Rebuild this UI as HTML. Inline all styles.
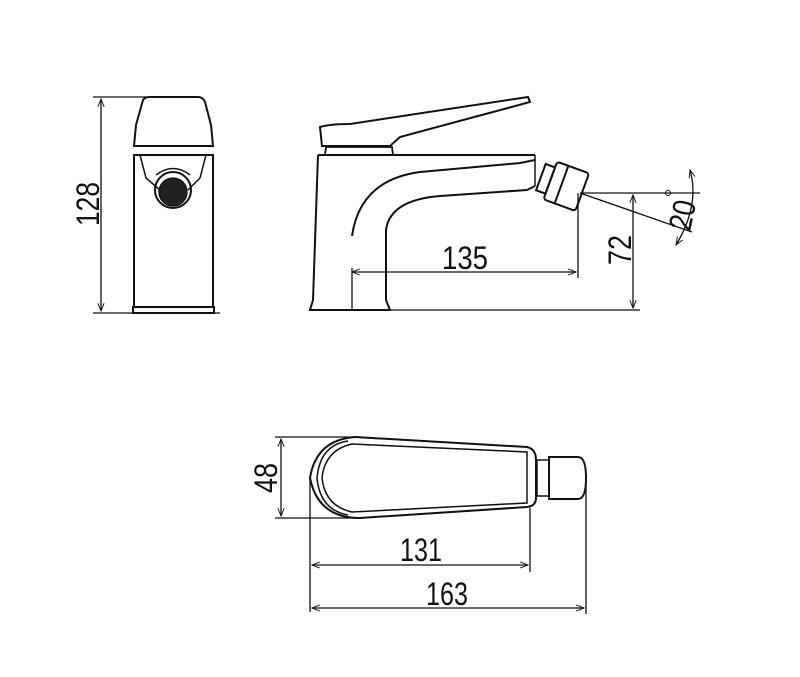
<!DOCTYPE html>
<html><head><meta charset="utf-8"><style>
html,body{margin:0;padding:0;background:#fff;}
svg{display:block;}
text{font-family:"Liberation Sans Narrow","Liberation Sans",sans-serif;font-size:32px;fill:#111;}
</style></head><body>
<svg width="800" height="677" viewBox="0 0 800 677" xmlns="http://www.w3.org/2000/svg">
<defs>
<marker id="a" viewBox="0 0 10 10" refX="10" refY="5" markerWidth="8" markerHeight="6" orient="auto-start-reverse"><path d="M0,1 L10,5 L0,9" fill="none" stroke="#111" stroke-width="1.2"/></marker>
</defs>
<g stroke="#111" stroke-width="1.3" fill="none">
<line x1="93" y1="97" x2="200" y2="97"/>
<line x1="93" y1="313" x2="220" y2="313"/>
<line x1="101" y1="99" x2="101" y2="311" marker-start="url(#a)" marker-end="url(#a)"/>
<path d="M134,146 L136,125 L143,100 Q145,97 150,97 L198,97 Q203,97 205,102 L211,125 L213,146 Z" stroke-width="2"/>
<line x1="134" y1="146" x2="213" y2="146" stroke-width="2"/>
<path d="M134,155 L213,155 L213,307 L134,307 Z" stroke-width="2"/>
<path d="M133,307 L214,307 L214,313 L133,313 Z" stroke-width="2"/>
<path d="M140,155 L146,178 L160,190 M206,155 L200,178 L188,190" stroke-width="1.5"/>
<path d="M156,175 Q173,162 190,175" stroke-width="1.5"/>
<circle cx="173" cy="190" r="18" stroke-width="2"/>
<circle cx="173" cy="192" r="14" fill="#222"/>
<path d="M320,127 Q330,124 350,124 L528,97 L530,102 L400,137 L390,146 L322,146 Z" stroke-width="2"/>
<path d="M326,147 L392,147 L393,155 L325,155 Z" stroke-width="1.8"/>
<path d="M318,155 L535,155 M318,155 L313,300 L310,310 L390,310 L386,300 L386,230 Q390,200 440,196 L527,190 L535,186" stroke-width="2"/>
<path d="M352,236 Q360,180 420,172 L520,163 L535,160" stroke-width="2"/>
<line x1="535" y1="155" x2="535" y2="186" stroke-width="1.5"/>
<g transform="rotate(20 560 183)" stroke-width="2">
<rect x="540" y="170" width="10" height="28"/>
<rect x="550" y="164" width="34" height="40" rx="3"/>
<line x1="562" y1="164" x2="562" y2="204"/>
</g>
<line x1="352" y1="268" x2="352" y2="310"/>
<line x1="352" y1="272" x2="576" y2="272" marker-start="url(#a)" marker-end="url(#a)"/>
<line x1="578" y1="193" x2="578" y2="278"/>
<line x1="390" y1="310" x2="640" y2="310"/>
<line x1="580" y1="193" x2="700" y2="193"/>
<line x1="633" y1="195" x2="633" y2="308" marker-start="url(#a)" marker-end="url(#a)"/>
<line x1="580" y1="193" x2="692" y2="232"/>
<path d="M690,170 Q700,205 676,245" marker-start="url(#a)" marker-end="url(#a)"/>
<line x1="275" y1="437" x2="355" y2="437"/>
<line x1="275" y1="518" x2="360" y2="518"/>
<line x1="281" y1="439" x2="281" y2="516" marker-start="url(#a)" marker-end="url(#a)"/>
<path d="M355,437 L527,447 Q536,449 536,460 L536,498 Q536,506 527,507 L360,518 Q318,518 310,478 Q316,440 355,437 Z" stroke-width="2"/>
<path d="M348,441 Q320,445 317,478 Q320,510 348,515" stroke-width="1.5"/>
<path d="M352,444 Q325,450 322,478 Q325,506 352,512 L527,503 L527,452 Z" stroke-width="1.5"/>
<rect x="537" y="460" width="12" height="36" stroke-width="1.5"/>
<path d="M549,457 L578,457 Q586,457 586,478 Q586,499 578,499 L549,499 Z" stroke-width="2"/>
<line x1="310" y1="478" x2="310" y2="612"/>
<line x1="530" y1="508" x2="530" y2="572"/>
<line x1="586" y1="480" x2="586" y2="614"/>
<line x1="312" y1="565" x2="528" y2="565" marker-start="url(#a)" marker-end="url(#a)"/>
<line x1="312" y1="608" x2="584" y2="608" marker-start="url(#a)" marker-end="url(#a)"/>
</g>
<text x="442" y="269" textLength="46" lengthAdjust="spacingAndGlyphs">135</text>
<text x="400" y="561" textLength="42" lengthAdjust="spacingAndGlyphs">131</text>
<text x="426" y="605" textLength="42" lengthAdjust="spacingAndGlyphs">163</text>
<text transform="translate(99,226) rotate(-90)" textLength="44" lengthAdjust="spacingAndGlyphs">128</text>
<text transform="translate(631,265) rotate(-90)" textLength="30" lengthAdjust="spacingAndGlyphs">72</text>
<text transform="translate(277,493) rotate(-90)" textLength="30" lengthAdjust="spacingAndGlyphs">48</text>
<text transform="translate(690,232) rotate(-78)" textLength="30" lengthAdjust="spacingAndGlyphs">20</text>
<circle cx="668" cy="193" r="2.5" fill="none" stroke="#111" stroke-width="1"/>
</svg>
</body></html>
